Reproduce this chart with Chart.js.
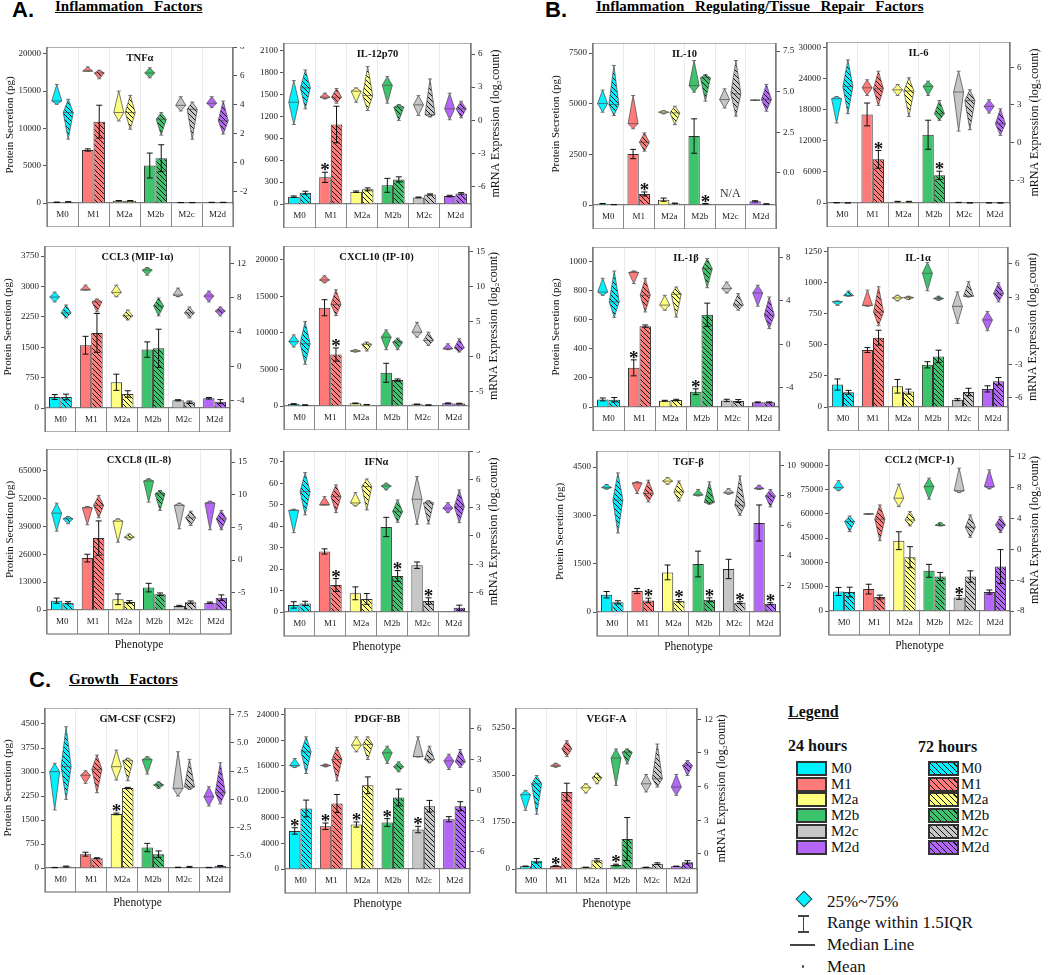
<!DOCTYPE html>
<html>
<head>
<meta charset="utf-8">
<script src="https://cdn.jsdelivr.net/npm/chart.js@4.4.1/dist/chart.umd.min.js"></script>
<style>
  body { margin: 0; background: #fff; font-family: "Liberation Serif", "Times New Roman", serif; }
  #page { position: relative; width: 1050px; height: 975px; overflow: hidden; background: #fff; }
  .panel { position: absolute; }
  .sec { position: absolute; font: bold 22px "Liberation Sans", Arial, sans-serif; line-height: 22px; color: #000; }
  .head { position: absolute; font: bold 15px "Liberation Serif", serif; line-height: 15px; text-decoration: underline; word-spacing: 7px; color: #000; white-space: nowrap; }
  .lg { position: absolute; color: #111; white-space: nowrap; line-height: 1; }
  .sw { position: absolute; width: 27px; height: 11px; border: 2px solid #333; }
</style>
</head>
<body>
<div id="page">
  <div class="sec" style="left:12px;top:-1px">A.</div>
  <div class="head" style="left:55px;top:-1px">Inflammation Factors</div>
  <div class="sec" style="left:545px;top:-1px">B.</div>
  <div class="head" style="left:596px;top:-1px">Inflammation Regulating/Tissue Repair Factors</div>
  <div class="sec" style="left:29px;top:669px">C.</div>
  <div class="head" style="left:69px;top:672px">Growth Factors</div>

  <div class="lg" style="left:788px;top:704px;font-size:16px;font-weight:bold;text-decoration:underline">Legend</div>
  <div class="lg" style="left:788px;top:738px;font-size:16px;font-weight:bold">24 hours</div>
  <div class="lg" style="left:918px;top:739px;font-size:16px;font-weight:bold">72 hours</div>

  <div class="lg" style="left:798px;top:893px;width:10px;height:10px;background:#00f2ff;border:1.5px solid #444;transform:rotate(45deg)"></div>
  <div class="lg" style="left:827px;top:893px;font-size:17px">25%~75%</div>
  <div class="lg" style="left:798px;top:915px;width:11px;height:1.5px;background:#444"></div>
  <div class="lg" style="left:802.5px;top:915px;width:1.5px;height:17px;background:#444"></div>
  <div class="lg" style="left:798px;top:931px;width:11px;height:1.5px;background:#444"></div>
  <div class="lg" style="left:827px;top:914px;font-size:17px">Range within 1.5IQR</div>
  <div class="lg" style="left:790px;top:944px;width:25px;height:1.5px;background:#444"></div>
  <div class="lg" style="left:827px;top:936px;font-size:17px">Median Line</div>
  <div class="lg" style="left:801.5px;top:965px;width:2.5px;height:2.5px;background:#444;border-radius:50%"></div>
  <div class="lg" style="left:827px;top:958px;font-size:17px">Mean</div>
</div>
<script>
// ---- data ----
const phenotypes = ["M0", "M1", "M2a", "M2b", "M2c", "M2d"];
const factors = ["TNFα", "IL-12p70", "CCL3 (MIP-1α)", "CXCL10 (IP-10)", "CXCL8 (IL-8)", "IFNα",
  "IL-10", "IL-6", "IL-1β", "IL-1α", "TGF-β", "CCL2 (MCP-1)",
  "GM-CSF (CSF2)", "PDGF-BB", "VEGF-A"];

// protein secretion (pg), one row per factor
const protein24 = [
  [100, 7100, 300, 5020, 60, 80],
  [100, 364, 168, 255, 90, 109],
  [272, 1550, 635, 1442, 190, 240],
  [270, 13450, 360, 4545, 230, 360],
  [4350, 24170, 5000, 10430, 1870, 3400],
  [3.3, 28.2, 8.7, 39.6, 21.8, 0.2],
  [65, 2517, 263, 3405, null, 180],
  [60, 17050, 260, 13140, 100, 40],
  [52, 269, 43, 105, 45, 32],
  [181, 459, 167, 340, 59, 146],
  [537, 652, 1230, 1490, 1336, 2764],
  [12050, 13520, 43400, 24800, 8360, 11680],
  [15, 432, 1690, 640, 20, 15],
  [5910, 6640, 6900, 7220, 6130, 7730],
  [100, 112, 62, 149, 62, 100]
];
const protein24Err = [
  [20, 150, 30, 1670, 10, 10],
  [10, 70, 10, 95, 5, 10],
  [60, 220, 200, 190, 15, 20],
  [50, 1100, 50, 1300, 40, 60],
  [1200, 1800, 2500, 2000, 300, 300],
  [1.5, 1.2, 3, 4.5, 1.5, 0],
  [10, 230, 80, 850, null, 30],
  [20, 2200, 60, 2800, 20, 10],
  [10, 55, 3, 20, 8, 3],
  [45, 20, 55, 25, 8, 25],
  [100, 80, 230, 400, 300, 560],
  [2500, 3000, 5500, 4000, 1200, 1300],
  [5, 60, 25, 130, 5, 5],
  [500, 500, 400, 600, 500, 400],
  [10, 10, 5, 30, 5, 5]
];
const protein72 = [
  [150, 10900, 300, 6000, 60, 80],
  [155, 1086, 200, 336, 130, 145],
  [272, 1854, 346, 1475, 140, 157],
  [130, 7045, 180, 3545, 130, 330],
  [3400, 33500, 3740, 7340, 3600, 5750],
  [4.0, 12.6, 6.1, 16.8, 5.1, 2.0],
  [20, 543, 80, 60, null, 50],
  [30, 8400, 260, 5320, 30, 20],
  [50, 556, 48, 634, 41, 32],
  [119, 559, 124, 408, 121, 208],
  [300, 360, 350, 380, 289, 258],
  [11700, 8600, 33200, 21300, 21300, 27400],
  [45, 305, 2500, 432, 35, 60],
  [9400, 10170, 13000, 11100, 9750, 9750],
  [310, 2867, 323, 1117, 200, 250]
];
const protein72Err = [
  [20, 2200, 30, 1800, 10, 10],
  [20, 250, 20, 35, 8, 10],
  [70, 480, 80, 470, 30, 50],
  [30, 900, 30, 150, 30, 50],
  [500, 8000, 600, 600, 600, 1300],
  [1, 3, 2.5, 2.5, 1.5, 1.2],
  [5, 100, 15, 10, null, 10],
  [10, 1700, 60, 800, 10, 5],
  [15, 8, 5, 80, 10, 3],
  [15, 60, 20, 50, 30, 30],
  [50, 70, 40, 60, 30, 30],
  [3000, 1200, 6500, 2500, 3500, 10500],
  [15, 15, 20, 100, 15, 20],
  [1300, 1400, 1300, 1300, 900, 700],
  [80, 330, 60, 800, 30, 60]
];

// mRNA expression (log2 count) as [low, median, high]
const mrna24 = [
  [[4.03, 4.26, 5.41], [6.33, 6.33, 6.62], [2.88, 3.46, 4.95], [5.87, 6.2, 6.56], [3.57, 3.96, 4.56], [3.8, 4.1, 4.56]],
  [[-0.39, 1.63, 3.59], [1.93, 2.08, 2.45], [1.63, 2.63, 2.93], [1.54, 3.17, 3.95], [0.43, 1.39, 2.23], [0.04, 1.03, 2.45]],
  [[7.49, 8.06, 8.64], [8.87, 8.9, 9.45], [8.1, 8.6, 9.45], [10.6, 11.2, 11.5], [8.1, 8.3, 9.1], [7.49, 8.18, 8.76]],
  [[1.42, 2.2, 3.16], [10.6, 11.0, 11.6], [0.71, 0.85, 1.04], [1.04, 2.83, 3.87], [2.83, 3.54, 4.95], [1.04, 1.18, 1.89]],
  [[4.42, 7.18, 8.71], [5.4, 8.0, 8.2], [2.73, 5.95, 6.32], [8.87, 12.1, 12.45], [4.78, 8.36, 8.71], [4.63, 8.7, 9.0]],
  [[0.35, 2.7, 2.83], [3.29, 3.29, 4.17], [3.18, 3.5, 4.59], [4.88, 5.3, 5.59], [1.24, 3.89, 6.29], [2.47, 2.94, 3.53]],
  [[3.74, 4.28, 5.1], [2.72, 3.04, 4.77], [3.64, 3.74, 3.84], [4.97, 5.38, 6.92], [4.0, 4.52, 5.18], [4.48, 4.48, 4.48]],
  [[1.56, 3.49, 3.67], [3.75, 4.36, 5.0], [3.75, 4.2, 4.62], [3.75, 4.47, 4.89], [0.92, 4.02, 5.68], [2.35, 2.88, 3.41]],
  [[4.5, 4.8, 6.07], [5.58, 6.6, 6.74], [3.13, 3.6, 4.5], null, [4.72, 5.12, 5.73], [3.5, 4.72, 5.43]],
  [[2.27, 2.6, 2.67], [2.2, 2.27, 3.64], [2.67, 2.94, 3.18], [3.58, 5.15, 6.12], [0.67, 2.18, 3.48], [0.0, 0.97, 1.73]],
  [[8.44, 8.55, 8.75], [8.15, 8.85, 8.93], [8.77, 8.98, 9.22], [7.99, 8.05, 8.42], [8.1, 8.2, 8.48], [8.42, 8.48, 8.7]],
  [[7.6, 8.0, 8.9], [4.55, 4.58, 4.62], [5.53, 6.62, 8.44], [6.49, 8.13, 9.22], [7.35, 7.6, 10.52], [7.83, 8.13, 10.3]],
  [[-0.94, 2.44, 3.18], [1.41, 2.12, 2.52], [1.7, 2.88, 4.35], [2.23, 3.5, 3.76], [0.29, 0.97, 4.2], [-0.59, 0.23, 1.11]],
  [[2.2, 2.4, 3.08], [2.27, 2.4, 2.53], [3.73, 4.38, 5.19], [2.6, 3.63, 4.28], [3.24, 3.27, 5.19], [2.01, 2.85, 3.5]],
  [[3.89, 5.28, 5.66], [7.73, 7.85, 8.08], [5.43, 5.9, 6.25], [6.1, 8.55, 9.35], [5.52, 6.25, 7.08], [5.22, 5.96, 7.08]]
];
const mrna72 = [
  [[1.62, 3.46, 4.38], [5.8, 6.2, 6.39], [2.31, 3.46, 4.65], [1.9, 3.0, 3.46], [1.62, 3.69, 4.19], [1.97, 2.9, 4.26]],
  [[1.03, 2.93, 4.55], [1.54, 2.08, 2.87], [0.88, 2.23, 4.86], [-0.02, 1.18, 1.42], [0.3, 0.5, 3.74], [0.22, 1.03, 1.72]],
  [[5.63, 6.21, 7.14], [6.33, 7.49, 7.83], [5.4, 5.87, 6.56], [5.87, 7.02, 7.95], [5.63, 6.21, 6.9], [5.87, 6.44, 6.9]],
  [[-1.04, 1.9, 5.05], [5.9, 7.5, 9.6], [0.85, 1.8, 2.12], [1.04, 2.12, 2.69], [1.65, 2.36, 3.54], [0.71, 1.3, 2.6]],
  [[5.55, 6.32, 6.67], [6.47, 8.36, 9.89], [3.1, 3.5, 4.0], [7.6, 10.15, 10.66], [5.29, 6.47, 7.48], [4.63, 6.32, 7.6]],
  [[2.23, 4.7, 6.71], [2.47, 4.17, 5.41], [2.76, 5.23, 6.04], [1.45, 2.58, 3.82], [1.27, 3.5, 3.74], [1.41, 3.1, 4.88]],
  [[3.54, 4.21, 6.62], [1.34, 1.89, 2.47], [2.98, 3.7, 4.11], [4.42, 5.86, 6.06], [3.5, 4.87, 6.92], [3.8, 4.52, 5.45]],
  [[2.3, 4.47, 6.58], [2.96, 4.28, 5.68], [2.08, 4.1, 5.15], [1.77, 2.3, 3.35], [1.03, 3.35, 4.2], [0.58, 1.5, 2.69]],
  [[2.48, 3.9, 6.74], [2.97, 4.5, 6.07], [2.5, 4.6, 5.27], [5.2, 6.96, 7.88], [3.13, 3.6, 4.66], [1.44, 2.67, 4.35]],
  [[3.09, 3.15, 3.55], [0.45, 1.67, 3.94], [2.79, 2.97, 3.09], [2.73, 2.88, 3.09], [3.03, 3.09, 4.39], [2.58, 3.33, 4.3]],
  [[5.5, 7.7, 9.53], [7.58, 8.15, 9.04], [7.65, 8.25, 8.99], [7.43, 7.55, 8.93], [6.69, 7.36, 9.33], [7.25, 7.97, 8.42]],
  [[2.29, 3.6, 4.32], [1.12, 3.9, 5.75], [3.03, 3.8, 4.88], [3.03, 3.1, 3.46], [1.56, 2.86, 4.45], [2.16, 3.16, 4.23]],
  [[0.0, 2.88, 6.41], [0.58, 2.65, 3.91], [1.64, 3.4, 3.62], [0.97, 1.26, 1.55], [0.88, 1.1, 3.53], [-0.41, 0.58, 3.23]],
  [[1.62, 3.73, 5.19], [0.9, 2.99, 4.16], [2.99, 4.45, 5.19], [1.78, 2.27, 2.76], [2.66, 2.99, 4.28], [2.21, 2.76, 3.96]],
  [[3.54, 6.25, 6.99], [8.67, 9.35, 10.09], [6.25, 6.78, 7.2], [8.02, 9.06, 9.35], [5.96, 6.7, 9.79], [6.99, 7.88, 8.32]]
];

// significance stars as [series (0 = 24h, 1 = 72h), phenotype index]
const stars = [
  [], [[0, 1]], [], [[1, 1]], [], [[1, 1], [1, 3], [1, 4]],
  [[1, 1], [1, 3]], [[1, 1], [1, 3]], [[0, 1], [0, 3]], [], [[1, 1], [1, 2], [1, 3], [1, 4], [1, 5]], [[0, 4]],
  [[0, 2]], [[0, 0], [0, 1], [0, 2], [0, 3], [0, 4]], [[0, 1], [0, 3]]
];
const notAvailable = [[6, 4]];

// axis ranges
const proteinMax = [20900, 2200, 4000, 21900, 75000, 75, 8000, 31000, 1100, 1290, 5000, 100000, 5000, 25000, 6000];
const proteinStep = [5000, 300, 750, 5000, 13000, 10, 2500, 6000, 200, 250, 1500, 15000, 750, 4000, 1750];
const mrnaMin = [-2.8, -7.6, -4.85, -7, -7.65, -8.05, -1.97, -4.8, -5.78, -6.83, 0.2, -8, -6.06, -7.68, -1.34];
const mrnaMax = [8, 7.0, 14, 15.85, 17, 9, 8.0, 8, 8.95, 7.5, 11, 13, 8.06, 8, 13];
const mrnaStep = [2, 3, 4, 5, 5, 3, 2.5, 3, 4, 3, 2, 4, 2.5, 3, 3];
const mrnaDecimals = [0, 0, 0, 0, 0, 0, 1, 0, 0, 0, 0, 0, 1, 0, 0];

// ---- layout / style ----
const frames = [ // plot frame: left, top, right, zero line
  [47, 47, 233, 203], [284, 43, 471, 204], [45, 246, 230, 408], [284, 246, 469, 406],
  [47, 449, 231, 610], [284, 451, 469, 612], [593, 43, 776, 205], [827, 42, 1010, 203],
  [593, 247, 779, 407], [828, 247, 1008, 407], [597, 451, 780, 612], [829, 449, 1010, 611],
  [45, 708, 230, 868], [285, 708, 470, 869], [516, 708, 697, 869]
];
const leftTitled = [0, 2, 4, 6, 8, 10, 12];
const rightTitled = [1, 3, 5, 7, 9, 11, 14];
const withPhenotype = [4, 5, 10, 11, 12, 13, 14];
const colors = ["#00f2ff", "#ff7a78", "#ffff80", "#3cc46c", "#c6c6c6", "#b466f8"];
const SERIF = '"Liberation Serif", "Times New Roman", serif';

function hatch(color) {
  const c = document.createElement("canvas");
  c.width = 5; c.height = 5;
  const g = c.getContext("2d");
  g.fillStyle = color;
  g.fillRect(0, 0, 5, 5);
  g.strokeStyle = "#111";
  g.lineWidth = 1;
  g.beginPath();
  g.moveTo(-1, -1); g.lineTo(6, 6);
  g.moveTo(4, -1); g.lineTo(6, 1);
  g.moveTo(-1, 4); g.lineTo(1, 6);
  g.stroke();
  return g.createPattern(c, "repeat");
}
const hatches = colors.map(hatch);

// ticks at every multiple of the step inside the range
function stepTicks(step) {
  return scale => {
    const list = [];
    for (let k = Math.ceil(scale.min / step - 1e-9); k * step <= scale.max + 1e-9; k++) {
      list.push({ value: Math.round(k * step * 1000) / 1000 });
    }
    scale.ticks = list;
  };
}

// error bars, violins (diamonds), stars, frame and titles
const decor = {
  id: "decor",
  afterDatasetsDraw(chart, args, opts) {
    const p = opts.panel;
    const { ctx, scales } = chart;
    const y = scales.y, y1 = scales.y1;
    ctx.save();
    chart.data.datasets.forEach((ds, di) => {
      const meta = chart.getDatasetMeta(di);
      meta.data.forEach((bar, i) => {
        const x = bar.x;
        const vi = ds.violins[i];
        if (vi) {
          const yl = y1.getPixelForValue(vi[0]);
          const ym = y1.getPixelForValue(vi[1]);
          const yh = y1.getPixelForValue(vi[2]);
          const hw = 5;
          ctx.fillStyle = ds.backgroundColor[i];
          ctx.strokeStyle = "#555";
          ctx.lineWidth = 0.8;
          ctx.beginPath();
          ctx.moveTo(x, yh); ctx.lineTo(x + hw, ym); ctx.lineTo(x, yl); ctx.lineTo(x - hw, ym);
          ctx.closePath();
          ctx.fill();
          ctx.stroke();
          ctx.beginPath();
          ctx.moveTo(x - hw, ym); ctx.lineTo(x + hw, ym);
          ctx.moveTo(x - 2, yh); ctx.lineTo(x + 2, yh);
          ctx.moveTo(x - 2, yl); ctx.lineTo(x + 2, yl);
          ctx.stroke();
        }
        const v = ds.data[i];
        if (v == null) return;
        const e = ds.errors[i] || 0;
        const top = y.getPixelForValue(v + e);
        if (e > 0) {
          const bot = y.getPixelForValue(Math.max(v - e, 0));
          ctx.strokeStyle = "#111";
          ctx.lineWidth = 1;
          ctx.beginPath();
          ctx.moveTo(x, top); ctx.lineTo(x, bot);
          ctx.moveTo(x - 3, top); ctx.lineTo(x + 3, top);
          ctx.moveTo(x - 3, bot); ctx.lineTo(x + 3, bot);
          ctx.stroke();
        }
        if (stars[p].some(s => s[0] === di && s[1] === i)) {
          ctx.fillStyle = "#111";
          ctx.font = "bold 19px " + SERIF;
          ctx.textAlign = "center";
          ctx.textBaseline = "alphabetic";
          ctx.fillText("*", x, top + 4);
        }
      });
    });
    ctx.restore();
  },
  afterDraw(chart, args, opts) {
    const p = opts.panel;
    const { ctx, chartArea: a } = chart;
    ctx.save();
    ctx.strokeStyle = "#7a7a7a";
    ctx.lineWidth = 1.2;
    ctx.strokeRect(a.left, a.top, a.right - a.left, a.bottom - a.top + 24);
    ctx.fillStyle = "#111";
    ctx.font = "bold 10.5px " + SERIF;
    ctx.textAlign = "center";
    ctx.textBaseline = "middle";
    ctx.fillText(factors[p], (a.left + a.right) / 2, a.top + 11);
    notAvailable.filter(n => n[0] === p).forEach(n => {
      ctx.font = "12px " + SERIF;
      ctx.fillStyle = "#333";
      ctx.fillText("N/A", chart.scales.x.getPixelForValue(n[1]), a.bottom - 11);
    });
    if (rightTitled.includes(p)) {
      ctx.translate(a.right + 25, (a.top + a.bottom) / 2);
      ctx.rotate(-Math.PI / 2);
      ctx.font = "12px " + SERIF;
      ctx.fillStyle = "#111";
      ctx.fillText("mRNA Expression (log₂count)", 0, 0);
    }
    ctx.restore();
  }
};

const page = document.getElementById("page");

// legend swatches
phenotypes.forEach((name, i) => {
  const top = 761 + i * 15.7;
  const s1 = document.createElement("div");
  s1.className = "sw";
  s1.style.cssText = `left:796px;top:${top}px;background:${colors[i]}`;
  page.appendChild(s1);
  const l1 = document.createElement("div");
  l1.className = "lg";
  l1.style.cssText = `left:831px;top:${top}px;font-size:15px`;
  l1.textContent = name;
  page.appendChild(l1);
  const s2 = document.createElement("div");
  s2.className = "sw";
  s2.style.cssText = `left:928px;top:${top}px;background:repeating-linear-gradient(45deg, ${colors[i]} 0 3px, #111 3px 4.2px)`;
  page.appendChild(s2);
  const l2 = document.createElement("div");
  l2.className = "lg";
  l2.style.cssText = `left:961px;top:${top}px;font-size:15px`;
  l2.textContent = name;
  page.appendChild(l2);
});

factors.forEach((name, p) => {
  const [fl, ft, fr, fz] = frames[p];
  const xh = withPhenotype.includes(p) ? 44 : 24;
  const W = fr - fl + 100, H = fz - ft + xh;
  const div = document.createElement("div");
  div.className = "panel";
  div.style.cssText = `left:${fl - 50}px;top:${ft}px;width:${W}px;height:${H}px`;
  const cv = document.createElement("canvas");
  cv.width = W; cv.height = H;
  div.appendChild(cv);
  page.appendChild(div);

  const tickFont = { family: SERIF, size: 9 };
  new Chart(cv, {
    type: "bar",
    data: {
      labels: phenotypes,
      datasets: [
        { label: "24 hours", data: protein24[p], errors: protein24Err[p], violins: mrna24[p],
          backgroundColor: colors, borderColor: "#333", borderWidth: 1,
          categoryPercentage: 0.74, barPercentage: 1.0, yAxisID: "y" },
        { label: "72 hours", data: protein72[p], errors: protein72Err[p], violins: mrna72[p],
          backgroundColor: hatches, borderColor: "#333", borderWidth: 1,
          categoryPercentage: 0.74, barPercentage: 1.0, yAxisID: "y" }
      ]
    },
    options: {
      responsive: false,
      animation: false,
      devicePixelRatio: 1,
      layout: { padding: 0 },
      plugins: {
        legend: { display: false },
        tooltip: { enabled: false },
        decor: { panel: p }
      },
      scales: {
        x: {
          offset: true,
          grid: { offset: true, color: "#ececec", tickColor: "#8a8a8a", tickLength: 24, lineWidth: 1 },
          border: { color: "#7a7a7a", width: 1.2 },
          ticks: { padding: -17.4, font: tickFont, color: "#222", maxRotation: 0, autoSkip: false },
          title: { display: withPhenotype.includes(p), text: "Phenotype", color: "#111",
                   font: { family: SERIF, size: 11.5 }, padding: { top: 0, bottom: 2 } },
          afterFit: s => { s.height = xh; s.paddingLeft = 0; s.paddingRight = 0; }
        },
        y: {
          position: "left",
          min: 0,
          max: proteinMax[p],
          afterBuildTicks: stepTicks(proteinStep[p]),
          ticks: { font: tickFont, color: "#222", padding: 2, callback: v => String(v) },
          grid: { drawOnChartArea: false, tickLength: 4, tickColor: "#555" },
          border: { color: "#7a7a7a", width: 1.2 },
          title: { display: leftTitled.includes(p), text: "Protein Secretion (pg)", color: "#111",
                   font: { family: SERIF, size: 11 }, padding: { top: 7, bottom: 0 } },
          afterFit: s => { s.width = 50; s.paddingTop = 0; s.paddingBottom = 0; }
        },
        y1: {
          position: "right",
          min: mrnaMin[p],
          max: mrnaMax[p],
          afterBuildTicks: stepTicks(mrnaStep[p]),
          ticks: { font: tickFont, color: "#222", padding: 3,
                   callback: v => v.toFixed(mrnaDecimals[p]) },
          grid: { drawOnChartArea: false, tickLength: 4, tickColor: "#555" },
          border: { color: "#7a7a7a", width: 1.2 },
          afterFit: s => { s.width = 50; s.paddingTop = 0; s.paddingBottom = 0; }
        }
      }
    },
    plugins: [decor]
  });
});
</script>
</body>
</html>
